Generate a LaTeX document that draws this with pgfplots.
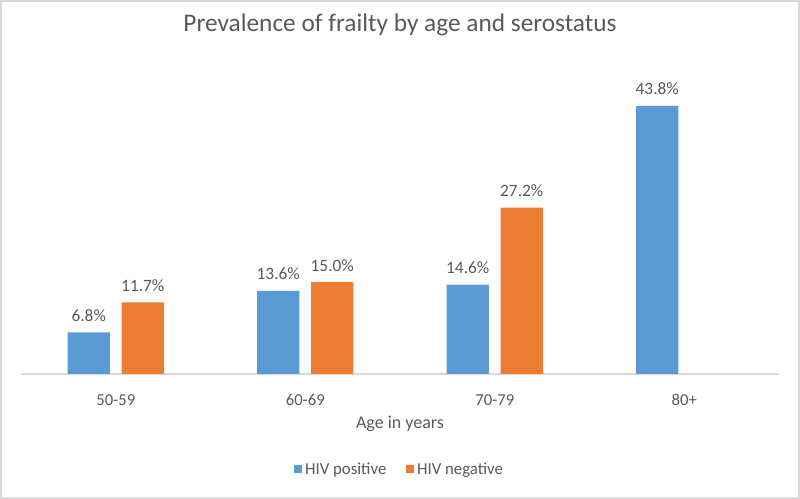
\documentclass[border=0pt]{standalone}
\usepackage{pgfplots}
\pgfplotsset{compat=1.18}
\usepackage{fontspec}
\setmainfont{Carlito}

\definecolor{hivpos}{HTML}{5B9BD5}
\definecolor{hivneg}{HTML}{ED7D31}
\definecolor{txtgray}{HTML}{595959}
\definecolor{linegray}{HTML}{D9D9D9}

\begin{document}
\begin{tikzpicture}
% page = 800x499 px at 0.75pt per px, axis box corner at px (21,374)
\useasboundingbox (-15.75pt,-93.75pt) rectangle (584.25pt,280.5pt);
\draw[linegray, line width=1.2pt] (-15.15pt,-93.15pt) rectangle (583.65pt,279.9pt);
\begin{axis}[
    at={(0,0)}, anchor=south west,
    scale only axis,
    width=568.5pt, height=229.5pt,
    ybar,
    bar width=0.222,
    xmin=-0.5, xmax=3.5,
    ymin=0, ymax=50,
    xtick=data,
    xticklabels={50-59, 60-69, 70-79, 80+},
    xtick style={draw=none},
    xticklabel style={anchor=center, yshift=-15.5pt, font=\fontsize{12.5}{14}\selectfont, text=txtgray},
    hide y axis,
    axis x line*=bottom,
    x axis line style={-, draw=linegray, line width=1pt},
    title={Prevalence of frailty by age and serostatus},
    title style={at={(0.5,1.114)}, anchor=center, font=\fontsize{19}{22}\selectfont, text=txtgray},
    xlabel={Age in years},
    xlabel style={at={(axis description cs:0.5,-0.163)}, anchor=center, font=\fontsize{13.5}{16}\selectfont, text=txtgray},
    nodes near coords={\pgfmathprintnumber[fixed, fixed zerofill, precision=1, assume math mode=true]{\pgfplotspointmeta}\%},
    every node near coord/.append style={anchor=center, yshift=12.75pt, font=\fontsize{13}{15}\selectfont, text=txtgray},
    legend style={at={(0.5,-0.312)}, anchor=center, draw=none, legend columns=2,
        font=\fontsize{12.6}{14}\selectfont, text=txtgray,
        /tikz/every even column/.append style={column sep=13pt}},
    legend image code/.code={\fill[#1] (0pt,-3pt) rectangle (6pt,3pt);},
]
    \addplot[fill=hivpos, draw=none, bar shift=-0.1425] coordinates {(0,6.8) (1,13.6) (2,14.6) (3,43.8)};
    \addplot[fill=hivneg, draw=none, bar shift=0.1425] coordinates {(0,11.7) (1,15.0) (2,27.2)};
    \legend{HIV positive, HIV negative}
\end{axis}
\end{tikzpicture}
\end{document}
